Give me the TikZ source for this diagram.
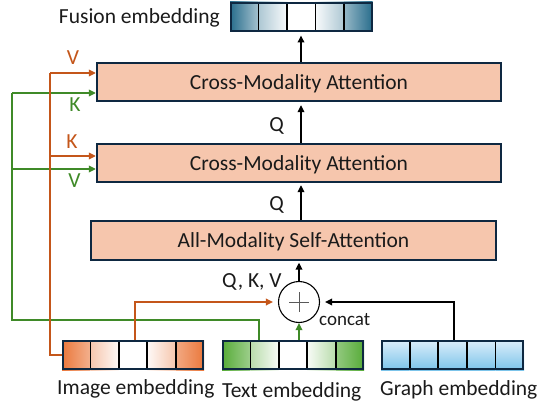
\documentclass[tikz,border=0pt]{standalone}
\usepackage{fontspec}
\setmainfont{Carlito}
\usetikzlibrary{arrows.meta,calc}
\definecolor{boxfill}{HTML}{F6C6AD}
\definecolor{boxline}{HTML}{0E2841}
\definecolor{oline}{HTML}{C4561A}
\definecolor{gline}{HTML}{3F8A28}
\definecolor{fusc}{HTML}{156082}
\definecolor{imgc}{HTML}{E97132}
\definecolor{txtc}{HTML}{4EA72E}
\definecolor{grtop}{HTML}{DCEEFA}
\definecolor{grbot}{HTML}{7CC4EA}
\definecolor{txtgray}{HTML}{1A1A1A}
\newcommand\lblfont{\fontsize{21.5}{24}\selectfont}
\newcommand\smallfont{\fontsize{19}{22}\selectfont}
\begin{document}
\begin{tikzpicture}[x=1pt,y=-1pt,
  attn/.style={draw=boxline, line width=2.2pt, fill=boxfill, minimum width=404pt, minimum height=38pt, inner sep=0pt, text height=14pt, text depth=0pt, font=\lblfont, text=txtgray},
  lbl/.style={inner sep=0pt, anchor=base, font=\lblfont, text=txtgray},
  tip/.style={-{Triangle[length=7pt,width=6.5pt]}},
  barr/.style={tip, line width=1.8pt, black},
  oarr/.style={tip, line width=1.8pt, oline},
  garr/.style={tip, line width=1.8pt, gline},
  ow/.style={line width=1.8pt, oline},
  gw/.style={line width=1.8pt, gline},
  barbox/.style={draw=boxline, line width=2pt, inner sep=0pt, minimum height=28pt},
  divider/.style={line width=1.8pt, black}]
\useasboundingbox (0,0) rectangle (538,404);

% ---------- attention boxes ----------
\node[attn] (a1) at (299,82) {Cross-Modality Attention};
\node[attn] (a2) at (299,163) {Cross-Modality Attention};
\node[attn, minimum width=405pt, minimum height=39pt] (a3) at (293.5,240.5) {All-Modality Self-Attention};

% ---------- fusion embedding bar ----------
\foreach \i/\lc/\rc in {0/fusc!92/fusc!38, 1/fusc!35/fusc!3, 2/white/white, 3/fusc!3/fusc!35, 4/fusc!45/fusc!92}
  \shade[left color=\lc, right color=\rc] ({230+\i*28.5},2) rectangle ({230+(\i+1)*28.5},32);
\foreach \i in {1,...,4}
  \draw[divider] ({230+\i*28.5},2) -- ({230+\i*28.5},32);
\node[barbox, minimum width=140.5pt] (fus) at (301.25,17) {};

% ---------- image embedding bar ----------
\foreach \i/\lc/\rc in {0/imgc!95/imgc!55, 1/imgc!40/imgc!4, 2/white/white, 3/imgc!4/imgc!40, 4/imgc!60/imgc!95}
  \shade[left color=\lc, right color=\rc] ({62+\i*28.4},340) rectangle ({62+(\i+1)*28.4},370);
\foreach \i in {1,...,4}
  \draw[divider] ({62+\i*28.4},340) -- ({62+\i*28.4},370);
\node[barbox, minimum width=140pt] (ibar) at (133,355) {};

% ---------- text embedding bar ----------
\foreach \i/\lc/\rc in {0/txtc!95/txtc!55, 1/txtc!40/txtc!4, 2/white/white, 3/txtc!4/txtc!40, 4/txtc!60/txtc!95}
  \shade[left color=\lc, right color=\rc] ({222+\i*28.4},340) rectangle ({222+(\i+1)*28.4},370);
\foreach \i in {1,...,4}
  \draw[divider] ({222+\i*28.4},340) -- ({222+\i*28.4},370);
\node[barbox, minimum width=140pt] (tbar) at (293,355) {};

% ---------- graph embedding bar ----------
\foreach \i in {0,...,4}
  \shade[top color=grtop, bottom color=grbot] ({381+\i*28.6},340) rectangle ({381+(\i+1)*28.6},370);
\foreach \i in {1,...,4}
  \draw[divider] ({381+\i*28.6},340) -- ({381+\i*28.6},370);
\node[barbox, minimum width=141pt] (gbar) at (452.5,355) {};

% ---------- concat circle ----------
\node[circle, draw=black, line width=1.1pt, fill=white, minimum size=41pt, inner sep=0pt] (circ) at (299,302) {};
\draw[line width=1pt, black!65] ($(circ.center)+(-10,0)$) -- ($(circ.center)+(10,0)$);
\draw[line width=1pt, black!65] ($(circ.center)+(0,-10)$) -- ($(circ.center)+(0,10)$);

% ---------- coordinates ----------
\coordinate (qx) at (301,0);
\coordinate (itap) at (135,340);
\coordinate (ttap1) at (259,340);
\coordinate (ttap2) at (299,340);
\coordinate (gtap) at (454,340);
\coordinate (gcorner) at (12,320);
\coordinate (gtop) at (12,93);
\coordinate (gb) at (12,169);
\coordinate (ocorner) at (50,355);
\coordinate (otop) at (50,73);
\coordinate (ob) at (50,156);

% ---------- green (text) paths ----------
\draw[gw] (ttap1) |- (gcorner) -- (gtop);
\draw[garr] (gtop) -- (a1.west |- gtop);
\draw[garr] (gb) -- (a2.west |- gb);
\draw[garr] (ttap2) -- (circ.south);

% ---------- orange (image) paths ----------
\draw[ow] (ibar.west) -- (ocorner) -- (otop);
\draw[oarr] (otop) -- (a1.west |- otop);
\draw[oarr] (ob) -- (a2.west |- ob);
\draw[oarr, shorten >=5pt] (itap) |- (circ.west);

% ---------- graph path ----------
\draw[barr, shorten >=5pt] (gtap) |- (circ.east);

% ---------- vertical black arrows ----------
\draw[barr, shorten >=1.5pt] (circ.north) -- (circ.north |- a3.south);
\draw[barr, shorten >=2pt] (a3.north -| qx) -- (a2.south -| qx);
\draw[barr, shorten >=3pt] (a2.north -| qx) -- (a1.south -| qx);
\draw[barr, shorten >=3.5pt] (a1.north -| qx) -- (fus.south -| qx);

% ---------- labels ----------
\node[lbl, anchor=base east] (lfus) at (220,23.3) {Fusion embedding};
\node[lbl] (lq1) at (276.5,131) {Q};
\node[lbl] (lq2) at (276.5,210.5) {Q};
\node[lbl, anchor=base west] (lqkv) at (222,287) {Q, K, V};
\node[lbl, anchor=base west, font=\smallfont] (lcat) at (319,325) {concat};
\node[lbl, text=oline] (lv1) at (73,65) {V};
\node[lbl, text=gline] (lk1) at (75,111) {K};
\node[lbl, text=oline] (lk2) at (72,148) {K};
\node[lbl, text=gline] (lv2) at (74.5,187) {V};
\node[lbl, anchor=base west] (limg) at (57,394) {Image embedding};
\node[lbl, anchor=base west] (ltxt) at (222,397) {Text embedding};
\node[lbl, anchor=base west] (lgr) at (380,395) {Graph embedding};
\end{tikzpicture}
\end{document}
